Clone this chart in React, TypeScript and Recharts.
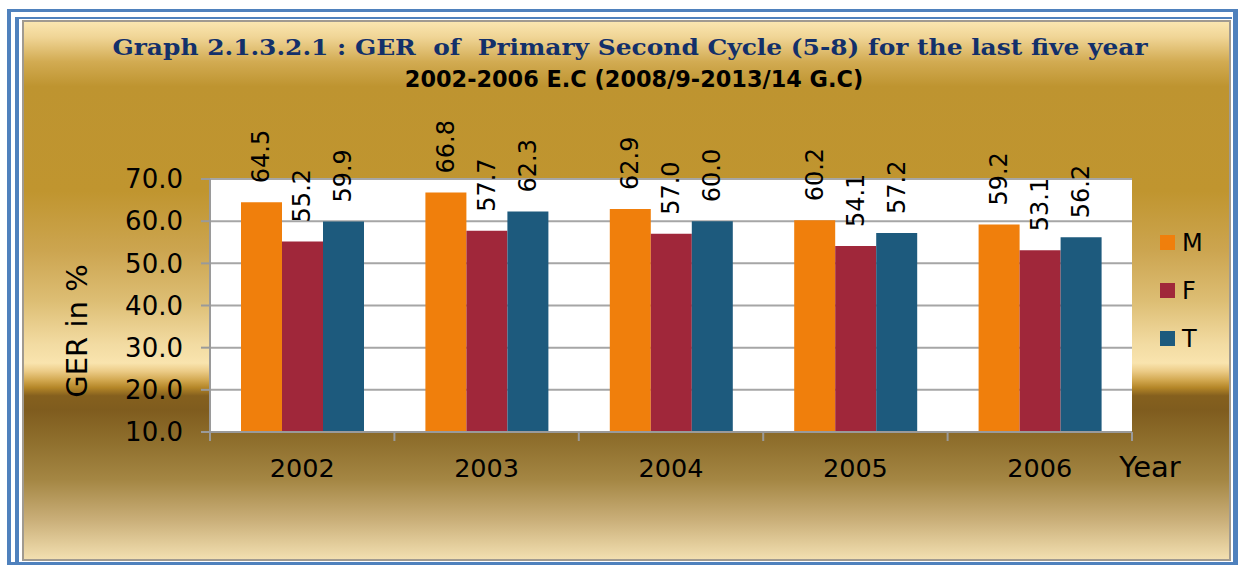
import React from 'react';
import { BarChart, Bar, XAxis, YAxis, CartesianGrid, Legend, LabelList } from 'recharts';

const categories = ['2002', '2003', '2004', '2005', '2006'];
const seriesKeys = ['M', 'F', 'T'];
const maleValues = [64.5, 66.8, 62.9, 60.2, 59.2];
const femaleValues = [55.2, 57.7, 57.0, 54.1, 53.1];
const totalValues = [59.9, 62.3, 60.0, 57.2, 56.2];
const yTicks = [10, 20, 30, 40, 50, 60, 70];

const data = categories.map((c, i) => ({
  year: c,
  M: maleValues[i],
  F: femaleValues[i],
  T: totalValues[i],
}));

const W = 1241;
const H = 565;
const PLOT_LEFT = 210;
const PLOT_RIGHT = 1132;
const PLOT_TOP = 179;
const PLOT_BOTTOM = 432;
const HALF_BAND = (PLOT_RIGHT - PLOT_LEFT) / categories.length / 2;

const SANS = 'DejaVu Sans, Verdana, sans-serif';
const SERIF = 'DejaVu Serif, serif';
const BLUE = '#4F81BD';
const AXIS_GRAY = '#9A9A9A';

const COLORS: Record<string, string> = { M: '#F07F0C', F: '#A0273A', T: '#1D5A7D' };

const DataLabel = (props: any) => {
  const { x, y, width, value } = props;
  const cx = x + width / 2;
  const ty = y - 19;
  return (
    <text
      x={cx}
      y={ty}
      transform={`rotate(-90 ${cx} ${ty})`}
      textAnchor="start"
      dominantBaseline="central"
      fontFamily={SANS}
      fontSize={24}
      fill="#000"
    >
      {Number(value).toFixed(1)}
    </text>
  );
};

const XTick = (props: any) => {
  const { x, payload, index } = props;
  const isLast = index === categories.length - 1;
  return (
    <g>
      <line x1={x - HALF_BAND} x2={x - HALF_BAND} y1={PLOT_BOTTOM} y2={PLOT_BOTTOM + 9} stroke={AXIS_GRAY} strokeWidth={2} />
      {isLast && (
        <line x1={x + HALF_BAND} x2={x + HALF_BAND} y1={PLOT_BOTTOM} y2={PLOT_BOTTOM + 9} stroke={AXIS_GRAY} strokeWidth={2} />
      )}
      <text x={x} y={477} textAnchor="middle" fontFamily={SANS} fontSize={25.5} fill="#000">
        {payload.value}
      </text>
    </g>
  );
};

const LegendContent = (props: any) => {
  const items = [...(props.payload || [])].sort(
    (a: any, b: any) => seriesKeys.indexOf(a.value) - seriesKeys.indexOf(b.value)
  );
  return (
    <div style={{ position: 'absolute', left: 0, top: 0, width: 0, height: 0 }}>
      {items.map((p: any, i: number) => (
        <div
          key={p.value}
          style={{ position: 'absolute', left: 1160, top: 242.5 + i * 48 - 15, height: 30, display: 'flex', alignItems: 'center', whiteSpace: 'nowrap' }}
        >
          <span style={{ display: 'inline-block', width: 15, height: 15, background: p.color, marginRight: 7 }} />
          <span style={{ fontFamily: SANS, fontSize: 24, color: '#000', lineHeight: '30px' }}>{p.value}</span>
        </div>
      ))}
    </div>
  );
};

const panelGradient =
  'linear-gradient(to bottom, #FAE6B0 0%, #F0D596 2.8%, #D2AB52 7.4%, #BE9430 12%, #C0952F 31.5%, #CCA550 42.6%, #DDBE74 52%, #F2DBA2 60%, #F9E4AE 63.5%, #ECCC88 65%, #D2A850 66.7%, #B48628 68.1%, #85601E 69.6%, #7F5C1E 72.2%, #8E6E2C 77.8%, #A48643 85.2%, #C9AE78 92.6%, #F2DFB0 100%)';

export default function App() {
  return (
    <div style={{ position: 'absolute', left: 0, top: 0, width: W, height: H, background: '#fff', overflow: 'hidden' }}>
      <div
        style={{
          position: 'absolute', left: 7, top: 9, width: 1231, height: 556, boxSizing: 'border-box',
          borderLeft: `4px solid ${BLUE}`, borderTop: `3px solid ${BLUE}`, borderRight: `5px solid ${BLUE}`, borderBottom: `3px solid ${BLUE}`,
        }}
      />
      <div
        style={{
          position: 'absolute', left: 15, top: 17, width: 1217, height: 545, boxSizing: 'border-box',
          borderLeft: `4px solid ${BLUE}`, borderTop: `2px solid ${BLUE}`,
        }}
      />
      <div
        style={{
          position: 'absolute', left: 22, top: 20, width: 1209, height: 541, boxSizing: 'border-box',
          border: '2px solid #A09A90', background: panelGradient,
        }}
      />
      <div style={{ position: 'absolute', left: 0, top: 0 }}>
        <BarChart
          width={W}
          height={H}
          data={data}
          margin={{ top: PLOT_TOP, right: W - PLOT_RIGHT, bottom: 0, left: 0 }}
          barGap={0}
        >
          <CartesianGrid vertical={false} fill="#FFFFFF" stroke="#A6A6A6" strokeWidth={2} />
          <XAxis
            dataKey="year"
            height={H - PLOT_BOTTOM}
            axisLine={{ stroke: AXIS_GRAY, strokeWidth: 2 }}
            tickLine={false}
            tick={<XTick />}
            interval={0}
            label={{
              content: () => (
                <text x={1150} y={477} textAnchor="middle" fontFamily={SANS} fontSize={29} fill="#000">Year</text>
              ),
            }}
          />
          <YAxis
            width={PLOT_LEFT}
            domain={[10, 70]}
            ticks={yTicks}
            interval={0}
            tickFormatter={(v: number) => v.toFixed(1)}
            axisLine={{ stroke: AXIS_GRAY, strokeWidth: 2 }}
            tickLine={{ stroke: AXIS_GRAY, strokeWidth: 2 }}
            tickSize={9}
            tickMargin={18}
            tick={{ fontFamily: SANS, fontSize: 26, fill: '#000' }}
            label={{
              content: () => (
                <text x={77} y={331} transform="rotate(-90 77 331)" textAnchor="middle" dominantBaseline="central" fontFamily={SANS} fontSize={29} fill="#000">GER in %</text>
              ),
            }}
          />
          <Legend
            layout="vertical"
            align="right"
            verticalAlign="top"
            wrapperStyle={{ left: 0, top: 0, width: 0, height: 0 }}
            content={<LegendContent />}
          />
          <Bar dataKey="M" name="M" fill={COLORS.M} barSize={41} isAnimationActive={false}>
            <LabelList dataKey="M" content={<DataLabel />} />
          </Bar>
          <Bar dataKey="F" name="F" fill={COLORS.F} barSize={41} isAnimationActive={false}>
            <LabelList dataKey="F" content={<DataLabel />} />
          </Bar>
          <Bar dataKey="T" name="T" fill={COLORS.T} barSize={41} isAnimationActive={false}>
            <LabelList dataKey="T" content={<DataLabel />} />
          </Bar>
        </BarChart>
      </div>
      <svg width={W} height={H} style={{ position: 'absolute', left: 0, top: 0, pointerEvents: 'none' }}>
        <text x={630} y={55} textAnchor="middle" fontFamily={SERIF} fontWeight="bold" fontSize={23} fill="#13306A" textLength={1035} lengthAdjust="spacingAndGlyphs" style={{ whiteSpace: 'pre' }}>
          {'Graph 2.1.3.2.1 : GER  of  Primary Second Cycle (5-8) for the last five year'}
        </text>
        <text x={634} y={87} textAnchor="middle" fontFamily={SANS} fontWeight="bold" fontSize={22.4} fill="#000">
          {'2002-2006 E.C (2008/9-2013/14 G.C)'}
        </text>
      </svg>
    </div>
  );
}
